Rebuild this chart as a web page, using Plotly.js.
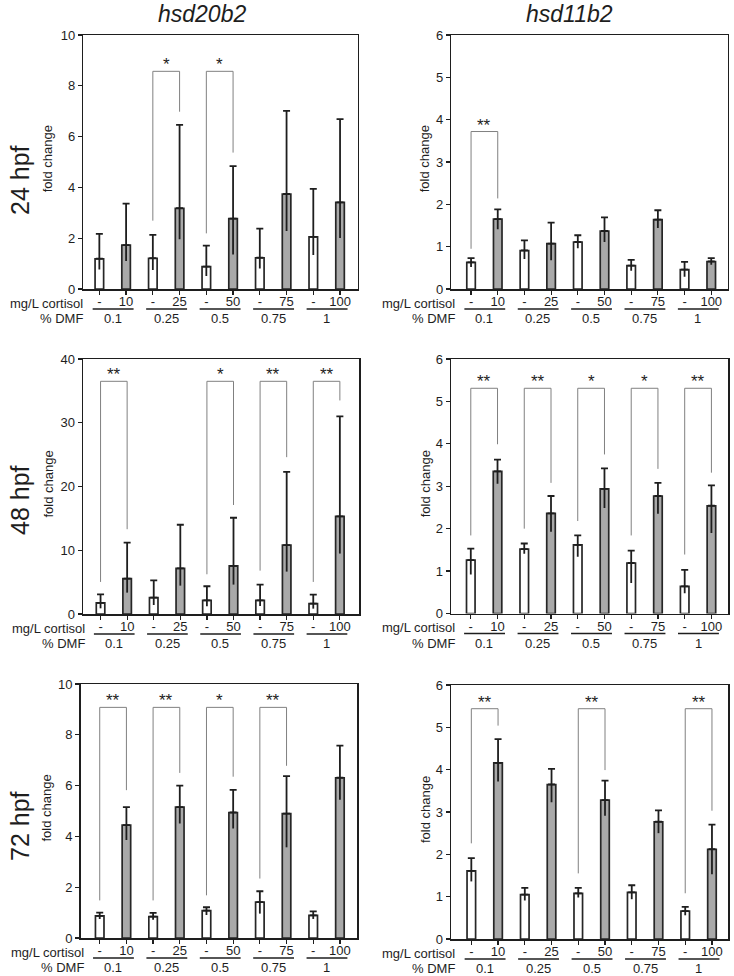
<!DOCTYPE html>
<html>
<head>
<meta charset="utf-8">
<script src="https://cdn.plot.ly/plotly-3.0.1.min.js"></script>
<style>html,body{margin:0;padding:0;background:#fff;}#chart{width:734px;height:976px;}</style>
</head>
<body>
<div id="chart"></div>
<script>
// ---- categories / tick labels ----
const cortisolLabels = ["-", "10", "-", "25", "-", "50", "-", "75", "-", "100"];
const dmfLabels = ["0.1", "0.25", "0.5", "0.75", "1"];
const geneTitles = ["hsd20b2", "hsd11b2"];
const stageLabels = ["24 hpf", "48 hpf", "72 hpf"];

// ---- hsd20b2, 24 hpf ----
const h20b2_24_mean  = [1.19, 1.73, 1.21, 3.18, 0.88, 2.77, 1.23, 3.74, 2.05, 3.41];
const h20b2_24_upper = [2.17, 3.36, 2.13, 6.46, 1.71, 4.84, 2.38, 7.01, 3.94, 6.69];
const h20b2_24_lower = [0.77, 1.10, 0.75, 1.96, 0.51, 1.36, 0.81, 2.28, 1.34, 2.01];
const h20b2_24_sig   = [[1, "*", 8.57, 2.69, 6.98], [2, "*", 8.57, 2.19, 5.37]];

// ---- hsd11b2, 24 hpf ----
const h11b2_24_mean  = [0.63, 1.65, 0.91, 1.07, 1.11, 1.37, 0.55, 1.64, 0.46, 0.65];
const h11b2_24_upper = [0.73, 1.88, 1.15, 1.57, 1.27, 1.69, 0.69, 1.86, 0.64, 0.73];
const h11b2_24_lower = [0.52, 1.41, 0.71, 0.68, 0.96, 1.11, 0.43, 1.44, 0.29, 0.57];
const h11b2_24_sig   = [[0, "**", 3.72, 0.95, 2.14]];

// ---- hsd20b2, 48 hpf ----
const h20b2_48_mean  = [1.73, 5.55, 2.57, 7.17, 2.15, 7.54, 2.15, 10.8, 1.62, 15.3];
const h20b2_48_upper = [3.09, 11.2, 5.29, 14.0, 4.35, 15.1, 4.61, 22.3, 3.04, 31.0];
const h20b2_48_lower = [0.89, 3.35, 1.41, 4.45, 1.20, 4.61, 1.26, 6.65, 0.84, 9.48];
const h20b2_48_sig   = [[0, "**", 36.5, 5.03, 13.3], [2, "*", 36.5, 6.23, 17.1], [3, "**", 36.5, 6.8, 24.6], [4, "**", 36.5, 5.03, 33.5]];

// ---- hsd11b2, 48 hpf ----
const h11b2_48_mean  = [1.26, 3.35, 1.52, 2.36, 1.62, 2.94, 1.19, 2.77, 0.64, 2.54];
const h11b2_48_upper = [1.53, 3.63, 1.65, 2.77, 1.84, 3.42, 1.48, 3.08, 1.03, 3.02];
const h11b2_48_lower = [0.92, 3.06, 1.41, 1.93, 1.34, 2.49, 0.72, 2.35, 0.48, 1.90];
const h11b2_48_sig   = [[0, "**", 5.31, 1.84, 3.99], [1, "**", 5.31, 2.0, 3.08], [2, "*", 5.31, 2.18, 3.75], [3, "*", 5.31, 1.84, 3.41], [4, "**", 5.31, 1.39, 3.32]];

// ---- hsd20b2, 72 hpf ----
const h20b2_72_mean  = [0.87, 4.44, 0.84, 5.15, 1.08, 4.94, 1.41, 4.90, 0.89, 6.31];
const h20b2_72_upper = [1.00, 5.15, 0.99, 6.00, 1.21, 5.83, 1.84, 6.37, 1.05, 7.57];
const h20b2_72_lower = [0.75, 3.86, 0.72, 4.51, 0.91, 4.31, 0.96, 3.57, 0.75, 5.44];
const h20b2_72_sig   = [[0, "**", 9.08, 1.48, 5.82], [1, "**", 9.08, 1.48, 6.5], [2, "*", 9.08, 1.68, 6.35], [3, "**", 9.08, 2.34, 6.78]];

// ---- hsd11b2, 72 hpf ----
const h11b2_72_mean  = [1.61, 4.16, 1.05, 3.65, 1.08, 3.28, 1.10, 2.77, 0.66, 2.12];
const h11b2_72_upper = [1.91, 4.72, 1.21, 4.02, 1.21, 3.74, 1.27, 3.04, 0.76, 2.70];
const h11b2_72_lower = [1.36, 3.72, 0.91, 3.23, 0.98, 2.91, 0.94, 2.50, 0.56, 1.53];
const h11b2_72_sig   = [[0, "**", 5.44, 2.26, 5.04], [2, "**", 5.44, 1.55, 3.99], [4, "**", 5.44, 1.08, 3.03]];

// ---- layout / styling ----
const W = 734, H = 976;
const FONT = "Liberation Sans, Arial, Helvetica, sans-serif";
const DARK = "#1e1e1e";
const GRAY_FILL = "#a9a9a9";
const FS = 13;

const panels = [
  {m: h20b2_24_mean, u: h20b2_24_upper, l: h20b2_24_lower, s: h20b2_24_sig, ymax: 10, dt: 2, px: [83.3, 357.7], py: [35, 289], xr: [-0.6, 9.66]},
  {m: h11b2_24_mean, u: h11b2_24_upper, l: h11b2_24_lower, s: h11b2_24_sig, ymax: 6,  dt: 1, px: [451.3, 727.8], py: [35, 289], xr: [-0.74, 9.62]},
  {m: h20b2_48_mean, u: h20b2_48_upper, l: h20b2_48_lower, s: h20b2_48_sig, ymax: 40, dt: 10, px: [83.0, 359.0], py: [359, 614], xr: [-0.66, 9.72]},
  {m: h11b2_48_mean, u: h11b2_48_upper, l: h11b2_48_lower, s: h11b2_48_sig, ymax: 6,  dt: 1, px: [451.0, 728.0], py: [359, 613.5], xr: [-0.74, 9.62]},
  {m: h20b2_72_mean, u: h20b2_72_upper, l: h20b2_72_lower, s: h20b2_72_sig, ymax: 10, dt: 2, px: [80.5, 357.0], py: [684, 938], xr: [-0.72, 9.64]},
  {m: h11b2_72_mean, u: h11b2_72_upper, l: h11b2_72_lower, s: h11b2_72_sig, ymax: 6,  dt: 1, px: [451.0, 728.0], py: [685, 939], xr: [-0.76, 9.6]}
];

const idx = cortisolLabels.map((_, i) => i);
const barColors = idx.map(i => (i % 2 === 0 ? "#ffffff" : GRAY_FILL));

const traces = [];
const layout = {
  width: W, height: H,
  margin: {l: 0, r: 0, t: 0, b: 0},
  paper_bgcolor: "#fff", plot_bgcolor: "#fff",
  showlegend: false, hovermode: false,
  font: {family: FONT, color: DARK, size: FS},
  shapes: [], annotations: []
};

panels.forEach((p, k) => {
  const n = k + 1;
  const xa = "x" + (n > 1 ? n : ""), ya = "y" + (n > 1 ? n : "");
  const xKey = "xaxis" + (n > 1 ? n : ""), yKey = "yaxis" + (n > 1 ? n : "");
  const plotH = p.py[1] - p.py[0];

  layout[xKey] = {
    domain: [p.px[0] / W, p.px[1] / W], anchor: ya, range: p.xr,
    tickmode: "array", tickvals: idx, ticktext: cortisolLabels,
    ticks: "outside", ticklen: 4, tickwidth: 1.2, tickcolor: DARK,
    ticklabelstandoff: -4,
    showline: true, linecolor: DARK, linewidth: 1.5, mirror: true,
    showgrid: false, zeroline: false, fixedrange: true,
    tickfont: {family: FONT, size: FS, color: DARK}
  };
  layout[yKey] = {
    domain: [1 - p.py[1] / H, 1 - p.py[0] / H], anchor: xa, range: [0, p.ymax],
    tick0: 0, dtick: p.dt,
    ticks: "outside", ticklen: 4, tickwidth: 1.2, tickcolor: DARK,
    showline: true, linecolor: DARK, linewidth: 1.5, mirror: true,
    showgrid: false, zeroline: false, fixedrange: true,
    tickfont: {family: FONT, size: FS, color: DARK}
  };

  const plus = p.m.map((v, i) => p.u[i] - v);
  const minus = p.m.map((v, i) => v - p.l[i]);
  const zeros = p.m.map(() => 0);

  traces.push({
    type: "bar", x: idx, y: p.m, xaxis: xa, yaxis: ya, width: 0.32,
    marker: {color: barColors, line: {color: "#262626", width: 1.7}},
    error_y: {type: "data", symmetric: false, array: plus, arrayminus: zeros, color: DARK, thickness: 1.8, width: 3.5}
  });
  traces.push({
    type: "scatter", mode: "markers", x: idx, y: p.m, xaxis: xa, yaxis: ya,
    marker: {size: 2, color: "rgba(0,0,0,0)"},
    error_y: {type: "data", symmetric: false, array: zeros, arrayminus: minus, color: DARK, thickness: 1.8, width: 0}
  });

  // significance brackets
  p.s.forEach(b => {
    const x0 = 2 * b[0], x1 = 2 * b[0] + 1;
    layout.shapes.push({
      type: "path", xref: xa, yref: ya,
      path: `M ${x0},${b[3]} L ${x0},${b[2]} L ${x1},${b[2]} L ${x1},${b[4]}`,
      line: {color: "#808080", width: 1}
    });
    layout.annotations.push({
      xref: xa, yref: ya, x: x0 + 0.5, y: b[2], yanchor: "bottom", yshift: -5,
      text: b[1], showarrow: false, font: {family: FONT, size: 17, color: DARK}
    });
  });

  // DMF underlines and labels
  dmfLabels.forEach((d, j) => {
    layout.shapes.push({
      type: "line", xref: xa, yref: ya + " domain",
      x0: 2 * j - 0.25, x1: 2 * j + 1.28, y0: -20 / plotH, y1: -20 / plotH,
      line: {color: DARK, width: 1.3}
    });
    layout.annotations.push({
      xref: xa, yref: ya + " domain", x: 2 * j + 0.5, y: 0, yanchor: "middle", yshift: -29.5,
      text: d, showarrow: false, font: {family: FONT, size: FS, color: DARK}
    });
  });

  // row labels on the left of x axis
  layout.annotations.push({
    xref: xa, yref: ya + " domain", x: 0, y: 0, xanchor: "right", yanchor: "middle",
    xshift: -14, yshift: -14, text: "mg/L cortisol", showarrow: false,
    font: {family: FONT, size: FS, color: DARK}
  });
  layout.annotations.push({
    xref: xa, yref: ya + " domain", x: 0, y: 0, xanchor: "right", yanchor: "middle",
    xshift: -14, yshift: -29.5, text: "% DMF", showarrow: false,
    font: {family: FONT, size: FS, color: DARK}
  });

  // y-axis title
  const isLeft = (k % 2 === 0);
  layout.annotations.push({
    xref: "paper", yref: "paper",
    x: (p.px[0] - (isLeft ? 35 : 26)) / W, y: 1 - ((p.py[0] + p.py[1]) / 2 - 3) / H,
    xanchor: "center", yanchor: "middle", textangle: -90,
    text: "fold change", showarrow: false, font: {family: FONT, size: FS, color: DARK}
  });
});

// column titles
[201.7, 569.6].forEach((cx, i) => {
  layout.annotations.push({
    xref: "paper", yref: "paper", x: cx / W, y: 1 - 14 / H, xanchor: "center", yanchor: "middle",
    text: "<i>" + geneTitles[i] + "</i>", showarrow: false,
    font: {family: FONT, size: 23, color: DARK}
  });
});

// stage labels
[180, 500, 826].forEach((cy, i) => {
  layout.annotations.push({
    xref: "paper", yref: "paper", x: 20 / W, y: 1 - cy / H, xanchor: "center", yanchor: "middle",
    textangle: -90, text: stageLabels[i], showarrow: false,
    font: {family: FONT, size: 25, color: DARK}
  });
});

Plotly.newPlot("chart", traces, layout, {staticPlot: true, displayModeBar: false});
</script>
</body>
</html>
